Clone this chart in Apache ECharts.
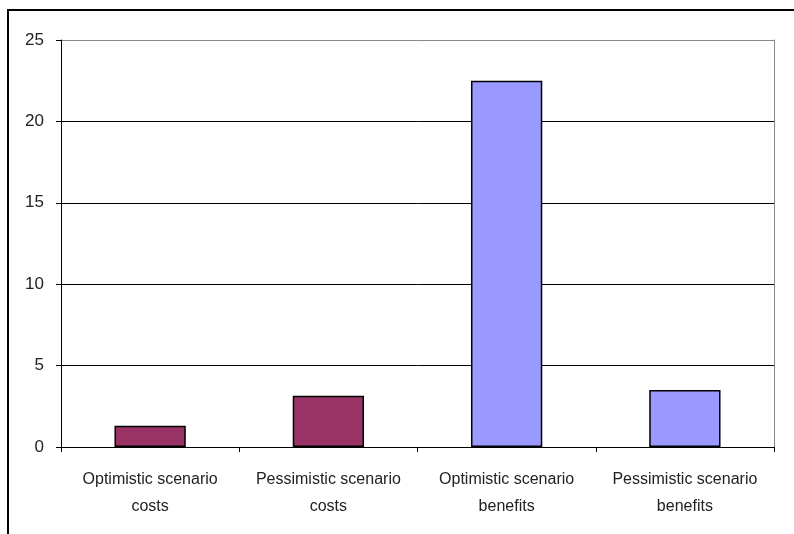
<!DOCTYPE html>
<html>
<head>
<meta charset="utf-8">
<style>
  html, body { margin: 0; padding: 0; background: #fff; }
  #chart { width: 794px; height: 534px; }
</style>
<script src="https://cdn.jsdelivr.net/npm/echarts@6/dist/echarts.min.js"></script>
</head>
<body>
<div id="chart"></div>
<script>
// Scenario categories and their values
const categories = [
  'Optimistic scenario\ncosts',
  'Pessimistic scenario\ncosts',
  'Optimistic scenario\nbenefits',
  'Pessimistic scenario\nbenefits'
];
const values = [1.3, 3.15, 22.5, 3.5];
const barColors = ['#993366', '#993366', '#9999FF', '#9999FF'];
const yTicks = [0, 5, 10, 15, 20, 25];

const FONT = '"Liberation Sans Narrow", "Arial Narrow", "Liberation Sans", Arial, sans-serif';

const chart = echarts.init(document.getElementById('chart'), null, { renderer: 'canvas' });

chart.setOption({
  animation: false,
  backgroundColor: '#ffffff',
  grid: { left: 61, top: 40, right: 20, bottom: 87 },
  graphic: [{
    type: 'polyline',
    shape: { points: [[8, 560], [8, 10], [820, 10]] },
    style: { stroke: '#000', lineWidth: 2, fill: null },
    silent: true
  }],
  xAxis: {
    type: 'category',
    data: categories,
    axisLine: { lineStyle: { color: '#000', width: 1 } },
    axisTick: { show: true, length: 5, lineStyle: { color: '#000' } },
    axisLabel: {
      interval: 0,
      color: '#222', fontFamily: FONT, fontSize: 16, lineHeight: 27, margin: 19
    },
    splitLine: { show: false }
  },
  yAxis: [{
    type: 'value',
    min: yTicks[0],
    max: yTicks[yTicks.length - 1],
    interval: 5,
    axisLine: { show: true, lineStyle: { color: '#000', width: 1 } },
    axisTick: { show: true, length: 5, lineStyle: { color: '#000' } },
    axisLabel: { color: '#222', fontFamily: FONT, fontSize: 17, margin: 17 },
    splitLine: {
      show: true,
      lineStyle: { color: ['#000', '#000', '#000', '#000', '#000', '#888'], width: 1 }
    }
  }, {
    type: 'value',
    position: 'right',
    min: 0, max: 25, interval: 5,
    axisLine: { show: true, lineStyle: { color: '#888', width: 1 } },
    axisTick: { show: false },
    axisLabel: { show: false },
    splitLine: { show: false }
  }],
  series: [{
    type: 'bar',
    yAxisIndex: 0,
    barWidth: '40%',
    data: values.map((v, i) => ({
      value: v,
      itemStyle: { color: barColors[i], borderColor: '#000', borderWidth: 1.5 }
    }))
  }]
});
</script>
</body>
</html>
